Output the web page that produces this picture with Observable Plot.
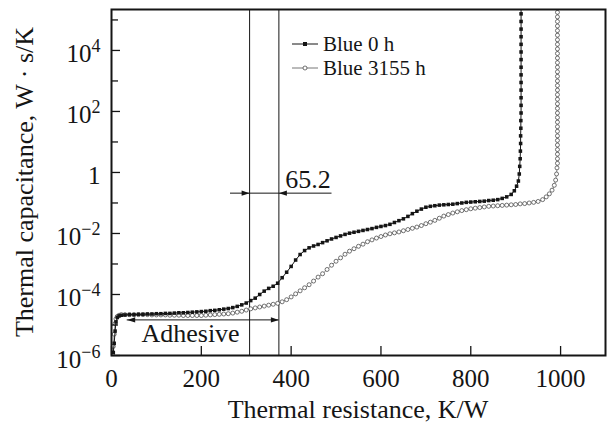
<!DOCTYPE html>
<html><head><meta charset="utf-8">
<script src="https://cdn.jsdelivr.net/npm/d3@7"></script>
<script src="https://cdn.jsdelivr.net/npm/@observablehq/plot@0.6"></script>
<style>
html,body{margin:0;padding:0;background:#fff;}
#chart{position:relative;width:608px;height:426px;}
</style></head><body><div id="chart"></div>
<script>
// ---- data (x = thermal resistance K/W, value = log10 of thermal capacitance W·s/K)
const seriesNames = ["Blue 0 h", "Blue 3155 h"];
const blue0hLog = [[4,-5.9],[6,-5.6],[8,-5.2],[10,-4.9],[13,-4.75],[17,-4.7],[22,-4.68],[30,-4.67],[40,-4.66],[50,-4.66],[60,-4.65],[70,-4.65],[80,-4.64],[90,-4.64],[100,-4.63],[110,-4.63],[120,-4.62],[130,-4.62],[140,-4.61],[150,-4.60],[160,-4.60],[170,-4.59],[180,-4.58],[190,-4.57],[200,-4.56],[210,-4.55],[220,-4.53],[230,-4.52],[240,-4.50],[250,-4.48],[260,-4.46],[270,-4.43],[280,-4.39],[290,-4.34],[300,-4.28],[310,-4.20],[320,-4.12],[330,-4.00],[340,-3.89],[350,-3.80],[360,-3.73],[370,-3.63],[380,-3.45],[390,-3.27],[400,-3.08],[410,-2.87],[420,-2.69],[430,-2.56],[440,-2.47],[450,-2.41],[460,-2.36],[470,-2.30],[480,-2.24],[490,-2.18],[500,-2.13],[510,-2.08],[520,-2.03],[530,-1.99],[540,-1.96],[550,-1.93],[560,-1.90],[570,-1.87],[580,-1.84],[590,-1.80],[600,-1.77],[610,-1.74],[620,-1.70],[630,-1.64],[640,-1.58],[650,-1.52],[660,-1.44],[670,-1.35],[680,-1.27],[690,-1.20],[700,-1.14],[710,-1.11],[720,-1.09],[730,-1.07],[740,-1.06],[750,-1.05],[760,-1.04],[770,-1.02],[780,-1.00],[790,-0.98],[800,-0.97],[810,-0.96],[820,-0.95],[830,-0.94],[840,-0.92],[850,-0.91],[860,-0.89],[870,-0.85],[880,-0.80],[890,-0.72],[897,-0.60],[902,-0.45],[906,-0.28],[908,-0.05],[909,0.2],[910,0.45],[910.5,0.7],[911,0.95],[911,1.2],[911.5,1.45],[911.5,1.7],[912,1.95],[912,2.2],[912,2.45],[912,2.7],[912,2.95],[912,3.2],[912,3.45],[912,3.7],[912,3.95],[912,4.2],[912,4.45],[912,4.7],[912,4.95],[912,5.2],[912,5.45]];
const blue3155hLog = [[2,-5.95],[4,-5.7],[6,-5.3],[8,-4.95],[10,-4.8],[13,-4.72],[17,-4.68],[22,-4.66],[30,-4.66],[40,-4.66],[50,-4.66],[60,-4.66],[70,-4.66],[80,-4.66],[90,-4.67],[100,-4.67],[110,-4.67],[120,-4.67],[130,-4.68],[140,-4.68],[150,-4.68],[160,-4.69],[170,-4.69],[180,-4.69],[190,-4.69],[200,-4.69],[210,-4.68],[220,-4.67],[230,-4.66],[240,-4.65],[250,-4.64],[260,-4.63],[270,-4.61],[280,-4.58],[290,-4.55],[300,-4.51],[310,-4.47],[320,-4.44],[330,-4.41],[340,-4.38],[350,-4.35],[360,-4.32],[370,-4.29],[380,-4.24],[390,-4.17],[400,-4.08],[410,-3.98],[420,-3.88],[430,-3.78],[440,-3.68],[450,-3.56],[460,-3.43],[470,-3.32],[480,-3.18],[490,-3.04],[500,-2.91],[510,-2.80],[520,-2.68],[530,-2.58],[540,-2.50],[550,-2.42],[560,-2.35],[570,-2.27],[580,-2.21],[590,-2.15],[600,-2.10],[610,-2.05],[620,-2.01],[630,-1.98],[640,-1.95],[650,-1.91],[660,-1.87],[670,-1.83],[680,-1.79],[690,-1.74],[700,-1.68],[710,-1.63],[720,-1.57],[730,-1.50],[740,-1.43],[750,-1.38],[760,-1.33],[770,-1.29],[780,-1.25],[790,-1.22],[800,-1.19],[810,-1.17],[820,-1.15],[830,-1.13],[840,-1.11],[850,-1.10],[860,-1.09],[870,-1.08],[880,-1.07],[890,-1.06],[900,-1.05],[910,-1.03],[920,-1.02],[930,-1.00],[940,-0.98],[950,-0.95],[960,-0.89],[968,-0.80],[975,-0.70],[981,-0.58],[986,-0.42],[989,-0.25],[991,-0.05],[992,0.15],[993,0.3],[993,0.45],[993,0.6],[993,0.75],[993,0.9],[993,1.05],[993,1.2],[993,1.35],[993,1.5],[993,1.65],[993,1.8],[993,1.95],[993,2.1],[993,2.25],[993,2.4],[993,2.55],[993,2.7],[993,2.85],[993,3.0],[993,3.15],[993,3.3],[993,3.45],[993,3.6],[993,3.75],[993,3.9],[993,4.05],[993,4.2],[993,4.35],[993,4.5],[993,4.65],[993,4.8],[993,4.95],[993,5.1],[993,5.25],[993,5.4]];

const xTicks = [0, 200, 400, 600, 800, 1000];
const yTicks = [1e-6, 1e-4, 1e-2, 1, 1e2, 1e4];
const yTickExponents = ["−6", "−4", "−2", "", "2", "4"];
const yMinorTicks = [1e-5, 1e-3, 1e-1, 10, 1e3, 1e5];
const xTitle = "Thermal resistance, K/W";
const yTitle = "Thermal capacitance, W · s/K";

// annotations
const gapLines = [307.5, 372.7];
const gapArrow = [{y: 0.21, x1: 265, x2: 491}];
const gapText = [{text: "65.2", x: 387, y: 0.6}];
const adhesiveArrow = [{y: 1.47e-5, x1: 35, x2: 372.7}];
const adhesiveText = [{text: "Adhesive", x: 176, y: 5.2e-6}];

// ---- build
const toRows = (arr, name) => arr.map(([x, lc]) => ({x, y: 10 ** lc, series: name}));
const rows0 = toRows(blue0hLog, seriesNames[0]);
const rows1 = toRows(blue3155hLog, seriesNames[1]);

const W = 608, H = 426, ML = 111, MR = 3, MT = 9, MB = 71;
const FW = W - ML - MR, FH = H - MT - MB;
const INK = "#151515";
const FONT = "'Liberation Serif', 'Times New Roman', serif";

const headRight = {draw(ctx) { ctx.moveTo(0, 0); ctx.lineTo(-8, -2.6); ctx.lineTo(-8, 2.6); ctx.closePath(); }};
const headLeft = {draw(ctx) { ctx.moveTo(0, 0); ctx.lineTo(8, -2.6); ctx.lineTo(8, 2.6); ctx.closePath(); }};

const plot = Plot.plot({
  width: W, height: H,
  marginLeft: ML, marginRight: MR, marginTop: MT, marginBottom: MB,
  style: {fontFamily: FONT, fontSize: "25px", color: INK, background: "#fff", overflow: "visible"},
  x: {domain: [0, 1100]},
  y: {type: "log", domain: [1e-6, 2.2e5]},
  marks: [
    Plot.ruleX(gapLines, {stroke: INK, strokeWidth: 1}),
    Plot.ruleY(gapArrow, {y: "y", x1: "x1", x2: "x2", stroke: INK, strokeWidth: 1}),
    Plot.dot(gapArrow, {x: () => gapLines[0], y: "y", symbol: headRight, fill: INK, stroke: null}),
    Plot.dot(gapArrow, {x: () => gapLines[1], y: "y", symbol: headLeft, fill: INK, stroke: null}),
    Plot.ruleY(adhesiveArrow, {y: "y", x1: "x1", x2: "x2", stroke: INK, strokeWidth: 1}),
    Plot.dot(adhesiveArrow, {x: "x1", y: "y", symbol: headLeft, fill: INK, stroke: null}),
    Plot.dot(adhesiveArrow, {x: "x2", y: "y", symbol: headRight, fill: INK, stroke: null}),
    Plot.text(gapText, {x: "x", y: "y", text: "text", textAnchor: "start", fontSize: 26, fill: INK}),
    Plot.text(adhesiveText, {x: "x", y: "y", text: "text", fontSize: 26, fill: INK}),

    Plot.line(rows1, {x: "x", y: "y", stroke: "#777", strokeWidth: 0.8, clip: true}),
    Plot.dot(rows1, {x: "x", y: "y", r: 2, stroke: "#3a3a3a", strokeWidth: 0.7, fill: "white", clip: true}),
    Plot.line(rows0, {x: "x", y: "y", stroke: INK, strokeWidth: 1, clip: true}),
    Plot.dot(rows0, {x: "x", y: "y", symbol: "square", r: 2, fill: INK, stroke: null, clip: true}),

    Plot.tickX(xTicks, {x: d => d, insetTop: FH - 9, stroke: INK, strokeWidth: 1.3}),
    Plot.tickY(yTicks, {y: d => d, insetRight: FW - 9, stroke: INK, strokeWidth: 1.3}),
    Plot.tickY(yMinorTicks, {y: d => d, insetRight: FW - 7, stroke: INK, strokeWidth: 1.3}),
    Plot.axisX({ticks: xTicks, tickSize: 0, tickPadding: 14, label: null, fontSize: 25, fill: INK,
      tickFormat: d => String(d)}),
    Plot.axisY({ticks: yTicks, tickSize: 0, tickPadding: 11, label: null, fontSize: 25, fill: INK, dy: 4,
      tickFormat: d => { const e = yTickExponents[yTicks.indexOf(d)]; return e ? "10^" + e : "1"; }}),
    Plot.frame({stroke: INK, strokeWidth: 2})
  ]
});

document.getElementById("chart").appendChild(plot);
const svg = d3.select(plot);

// superscript exponents on the y tick labels
svg.selectAll('g[aria-label="y-axis tick label"] text').each(function() {
  const t = this.textContent;
  if (t.includes("^")) {
    const [base, exp] = t.split("^");
    const sel = d3.select(this);
    sel.text(base);
    sel.append("tspan").attr("dy", -10).attr("font-size", 18).text(exp);
  }
});

// axis titles
svg.append("text").attr("x", ML + FW / 2).attr("y", 418).attr("text-anchor", "middle")
  .attr("font-size", 26).attr("fill", INK).text(xTitle);
svg.append("text").attr("transform", `translate(33,${MT + FH / 2}) rotate(-90)`).attr("text-anchor", "middle")
  .attr("font-size", 26).attr("fill", INK).text(yTitle);

// legend
const legend = svg.append("g").attr("aria-label", "legend");
seriesNames.forEach((name, i) => {
  const cy = [44, 68][i];
  const g = legend.append("g");
  g.append("line").attr("x1", 292).attr("x2", 318).attr("y1", cy).attr("y2", cy)
    .attr("stroke", i ? "#777" : INK).attr("stroke-width", 1);
  if (i === 0) {
    g.append("rect").attr("x", 303).attr("y", cy - 2).attr("width", 4).attr("height", 4).attr("fill", INK);
  } else {
    g.append("circle").attr("cx", 305).attr("cy", cy).attr("r", 2).attr("fill", "white")
      .attr("stroke", "#3a3a3a").attr("stroke-width", 0.7);
  }
  g.append("text").attr("x", 323).attr("y", cy + 7).attr("text-anchor", "start")
    .attr("font-size", 21).attr("fill", INK).text(name);
});
</script>
</body></html>
